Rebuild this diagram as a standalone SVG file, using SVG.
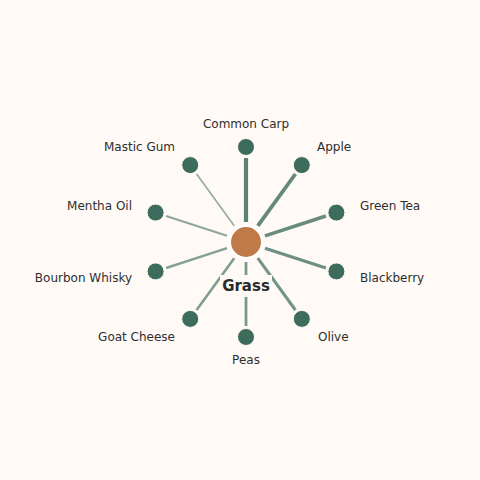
<svg xmlns="http://www.w3.org/2000/svg" width="480" height="480" viewBox="0 0 480 480">
<style>
.lbl{font-family:"DejaVu Sans",sans-serif;font-size:12px;fill:#2e2e2e}
.leaf{fill:#3d6b5c;stroke:#fffaf5;stroke-width:1}
.edge{stroke:#3d6b5c;stroke-linecap:butt;fill:none}
.hub{fill:#c07a48;stroke:#ffffff;stroke-width:2}
.hubl{font-family:"DejaVu Sans",sans-serif;font-size:15px;font-weight:bold;fill:#2a2a2a}
</style>
<rect x="0" y="0" width="480" height="480" fill="#fffaf5"/>
<g id="connectors">
<line class="edge" x1="246" y1="222" x2="246" y2="158" stroke-width="4.2" stroke-opacity="0.85"/>
<line class="edge" x1="257.8" y1="225.8" x2="295.4" y2="174.0" stroke-width="3.8" stroke-opacity="0.8"/>
<line class="edge" x1="265.0" y1="235.8" x2="325.9" y2="216.0" stroke-width="3.5" stroke-opacity="0.78"/>
<line class="edge" x1="265.0" y1="248.2" x2="325.9" y2="268.0" stroke-width="3.3" stroke-opacity="0.75"/>
<line class="edge" x1="257.8" y1="258.2" x2="295.4" y2="310.0" stroke-width="3.0" stroke-opacity="0.72"/>
<line class="edge" x1="246" y1="262" x2="246" y2="326" stroke-width="2.8" stroke-opacity="0.68"/>
<line class="edge" x1="234.2" y1="258.2" x2="196.6" y2="310.0" stroke-width="2.6" stroke-opacity="0.65"/>
<line class="edge" x1="227.0" y1="248.2" x2="166.1" y2="268.0" stroke-width="2.4" stroke-opacity="0.62"/>
<line class="edge" x1="227.0" y1="235.8" x2="166.1" y2="216.0" stroke-width="2.1" stroke-opacity="0.58"/>
<line class="edge" x1="234.2" y1="225.8" x2="196.6" y2="174.0" stroke-width="1.7" stroke-opacity="0.55"/>
</g>
<g id="hub">
<circle class="hub" cx="246" cy="242" r="16"/>
<rect x="220" y="275" width="52" height="22" fill="#fffaf5"/>
<text class="hubl" x="246" y="291" text-anchor="middle">Grass</text>
</g>
<g id="common-carp"><circle class="leaf" cx="246" cy="147" r="8.5"/><text class="lbl" x="246" y="128" text-anchor="middle">Common Carp</text></g>
<g id="apple"><circle class="leaf" cx="301.8" cy="165.1" r="8.5"/><text class="lbl" x="317" y="151">Apple</text></g>
<g id="green-tea"><circle class="leaf" cx="336.4" cy="212.6" r="8.5"/><text class="lbl" x="360" y="210">Green Tea</text></g>
<g id="blackberry"><circle class="leaf" cx="336.4" cy="271.4" r="8.5"/><text class="lbl" x="360" y="282">Blackberry</text></g>
<g id="olive"><circle class="leaf" cx="301.8" cy="318.9" r="8.5"/><text class="lbl" x="318" y="341">Olive</text></g>
<g id="peas"><circle class="leaf" cx="246" cy="337" r="8.5"/><text class="lbl" x="246" y="364" text-anchor="middle">Peas</text></g>
<g id="goat-cheese"><circle class="leaf" cx="190.2" cy="318.9" r="8.5"/><text class="lbl" x="175" y="341" text-anchor="end">Goat Cheese</text></g>
<g id="bourbon-whisky"><circle class="leaf" cx="155.6" cy="271.4" r="8.5"/><text class="lbl" x="132" y="282" text-anchor="end">Bourbon Whisky</text></g>
<g id="mentha-oil"><circle class="leaf" cx="155.6" cy="212.6" r="8.5"/><text class="lbl" x="132" y="210" text-anchor="end">Mentha Oil</text></g>
<g id="mastic-gum"><circle class="leaf" cx="190.2" cy="165.1" r="8.5"/><text class="lbl" x="175" y="151" text-anchor="end">Mastic Gum</text></g>
</svg>
